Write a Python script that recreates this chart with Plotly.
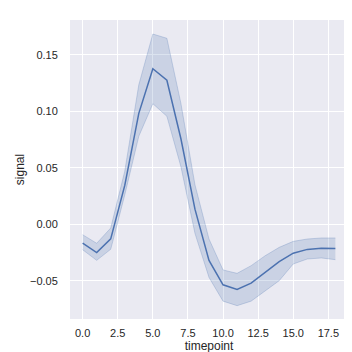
import plotly.graph_objects as go

timepoints = list(range(19))
signal_mean = [-0.0166, -0.0250, -0.0129, 0.0344, 0.0982, 0.1377, 0.1275, 0.0757, 0.0134,
               -0.0320, -0.0535, -0.0576, -0.0520, -0.0425, -0.0330, -0.0256, -0.0222, -0.0211, -0.0214]
ci_upper = [-0.0092, -0.0168, -0.0033, 0.0470, 0.1235, 0.1684, 0.1646, 0.1070, 0.0350,
            -0.0130, -0.0404, -0.0434, -0.0366, -0.0278, -0.0204, -0.0151, -0.0130, -0.0121, -0.0121]
ci_lower = [-0.0225, -0.0319, -0.0221, 0.0260, 0.0779, 0.1067, 0.0956, 0.0510, -0.0080,
            -0.0470, -0.0680, -0.0720, -0.0680, -0.0587, -0.0499, -0.0351, -0.0307, -0.0298, -0.0313]

x_ticks = [0.0, 2.5, 5.0, 7.5, 10.0, 12.5, 15.0, 17.5]
x_ticktext = ["0.0", "2.5", "5.0", "7.5", "10.0", "12.5", "15.0", "17.5"]
y_ticks = [-0.05, 0.0, 0.05, 0.10, 0.15]
y_ticktext = ["\u22120.05", "0.00", "0.05", "0.10", "0.15"]

blue = "76,114,176"

fig = go.Figure()
fig.add_trace(go.Scatter(x=timepoints, y=ci_upper, mode="lines",
                         line=dict(color=f"rgba({blue},0.25)", width=1),
                         hoverinfo="skip", showlegend=False))
fig.add_trace(go.Scatter(x=timepoints, y=ci_lower, mode="lines", fill="tonexty",
                         fillcolor=f"rgba({blue},0.2)",
                         line=dict(color=f"rgba({blue},0.25)", width=1),
                         hoverinfo="skip", showlegend=False))
fig.add_trace(go.Scatter(x=timepoints, y=signal_mean, mode="lines",
                         line=dict(color=f"rgb({blue})", width=1.5), showlegend=False))

font = "Liberation Sans, Arial, sans-serif"
fig.update_layout(
    width=352, height=352,
    margin=dict(l=59, r=12, t=12, b=41),
    paper_bgcolor="white", plot_bgcolor="#EAEAF2",
    font=dict(family=font, color="#262626", size=11),
)
fig.update_xaxes(range=[-0.9, 18.9], tickvals=x_ticks, ticktext=x_ticktext,
                 showgrid=True, gridcolor="white", gridwidth=1, zeroline=False,
                 ticks="outside", ticklen=4, tickcolor="rgba(0,0,0,0)",
                 tickfont=dict(size=11),
                 title=dict(text="timepoint", font=dict(size=12), standoff=0))
fig.update_yaxes(range=[-0.0838, 0.1808], tickvals=y_ticks, ticktext=y_ticktext,
                 showgrid=True, gridcolor="white", gridwidth=1, zeroline=False,
                 ticks="outside", ticklen=9, tickcolor="rgba(0,0,0,0)",
                 tickfont=dict(size=11),
                 title=dict(text="signal", font=dict(size=12), standoff=2))

fig.write_html("out.html")
